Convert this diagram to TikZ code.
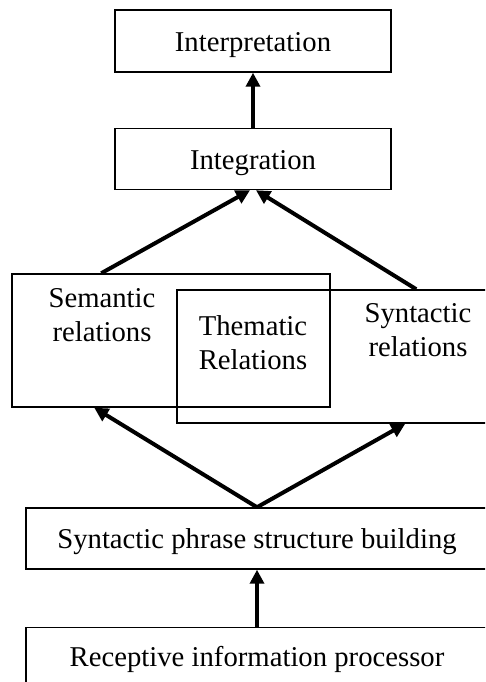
\documentclass[tikz,border=0pt]{standalone}
\usepackage{fontspec}
\setmainfont{Liberation Serif}
\usetikzlibrary{arrows.meta,positioning,calc}

\begin{document}
\begin{tikzpicture}[x=1pt,y=1pt,node distance=55pt,
    font=\fontsize{28.7}{34}\selectfont,
    stage/.style={draw,line width=1.5pt,inner sep=0pt,minimum height=61pt,text height=21pt,text depth=0pt},
    group/.style={draw,line width=1.5pt,inner sep=0pt,minimum width=#1,minimum height=133pt},
    label/.style={align=center,anchor=base},
    flow/.style={line width=4pt,-{Triangle[length=14pt,width=14pt]}}]

	\clip (0,0) rectangle (485,682);
	\fill[white] (0,0) rectangle (485,682);

	% stages
	\node[stage,minimum width=276pt,minimum height=62pt] (interp) at (253,641) {Interpretation};
	\node[stage,minimum width=276pt] (integ) [below=of interp] {Integration};
	\node[stage,minimum width=462pt] (phrase) at (257,143.5) {Syntactic phrase structure building};
	\node[stage,minimum width=462pt,text height=17pt] (recept) [below=57pt of phrase] {Receptive information processor};

	% overlapping relation boxes
	\node[group=318pt] (sem) at (171,341.5) {};
	\node[group=313pt] (syn) at (333.5,325.5) {};
	\node[label] (semtext) at (102,340) {Semantic\\relations};
	\node[label] (thmtext) at (253,312) {Thematic\\Relations};
	\node[label] (syntext) at (418,325) {Syntactic\\relations};

	\coordinate (semin) at ($(sem.south west)+(83,0)$);
	\coordinate (synin) at ($(syn.south west)+(229,0)$);
	\coordinate (semout) at ($(sem.north west)+(90,0)$);
	\coordinate (synout) at ($(syn.north west)+(240,0)$);
	\coordinate (integl) at ($(integ.south)+(-3,0)$);
	\coordinate (integr) at ($(integ.south)+(3,0)$);

	\draw[flow] (recept.north) -- (phrase.south);
	\draw[flow] (phrase.north) -- (semin);
	\draw[flow] (phrase.north) -- (synin);
	\draw[flow] (semout) -- (integl);
	\draw[flow] (synout) -- (integr);
	\draw[flow] (integ.north) -- (interp.south);

\end{tikzpicture}
\end{document}
